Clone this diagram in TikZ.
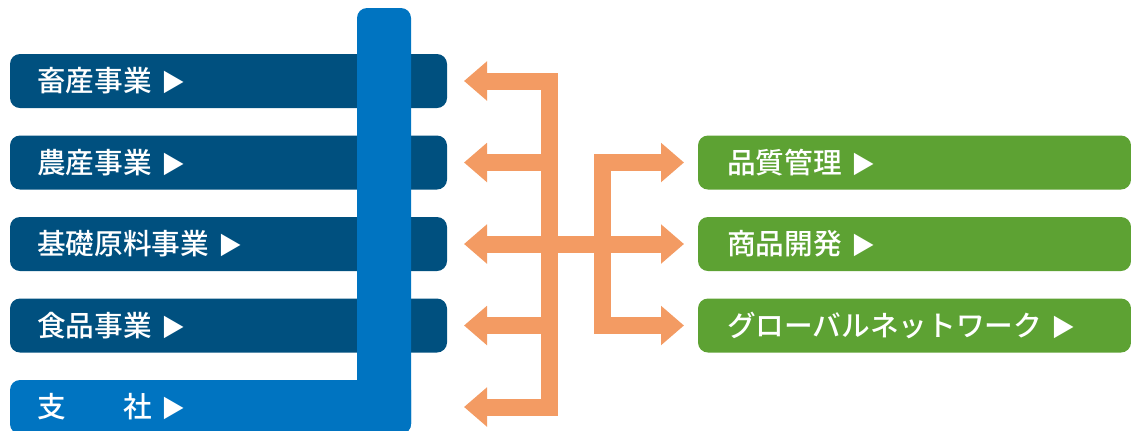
\documentclass[tikz,border=0pt]{standalone}
\usepackage{fontspec}
\usetikzlibrary{arrows.meta}
\newfontfamily\jpfont{Noto Sans CJK JP Medium}
\newcommand\navtri{{\fontsize{18}{20}\selectfont ▶}}

\definecolor{bizblue}{HTML}{00507F}
\definecolor{hqblue}{HTML}{0074C1}
\definecolor{suppgreen}{HTML}{5DA233}
\definecolor{linkorange}{HTML}{F39B63}

\tikzset{
  unitbox/.style={fill=#1, rounded corners=7.5pt, minimum height=40.5pt,
    text=white, align=left, font=\jpfont\fontsize{21.5}{26}\selectfont},
  bizbox/.style={unitbox=bizblue, inner xsep=20.25pt, text width=287.25pt},
  hqbox/.style={unitbox=hqblue, inner xsep=20.25pt, text width=260.25pt},
  suppbox/.style={unitbox=suppgreen, inner xsep=21.75pt, text width=281.25pt},
  link/.style={draw=linkorange, line width=12.75pt, line join=miter,
    >={Triangle[length=17.25pt,width=28.5pt]}}
}

\begin{document}
\begin{tikzpicture}[x=0.75pt, y=-0.75pt]
  \useasboundingbox (0,0) rectangle (1131,430);

  \node[bizbox] (b1) at (228.5, 81) {畜産事業 \navtri};
  \node[bizbox] (b2) at (228.5, 162.5) {農産事業 \navtri};
  \node[bizbox] (b3) at (228.5, 244) {基礎原料事業 \navtri};
  \node[bizbox] (b4) at (228.5, 325.5) {食品事業 \navtri};

  \fill[hqblue, rounded corners=7.5pt] (357, 8) rectangle (411, 434);
  \node[hqbox] (b5) at (210.5, 407) {支　　社 \navtri};

  \node[suppbox] (g1) at (914.5, 162.5) {品質管理 \navtri};
  \node[suppbox] (g2) at (914.5, 244) {商品開発 \navtri};
  \node[suppbox] (g3) at (914.5, 325.5) {グローバルネットワーク \navtri};

  \coordinate (sL) at (549.5, 0);
  \coordinate (sR) at (602.5, 0);
  \coordinate (tipL) at (464, 0);
  \coordinate (tipR) at (684, 0);

  \draw[link, <->] (tipL |- b1) -- (sL |- b1) -- (sL |- b5) -- (tipL |- b5);
  \draw[link, ->] (sL |- b2) -- (tipL |- b2);
  \draw[link, ->] (sL |- b4) -- (tipL |- b4);
  \draw[link, <->] (tipL |- b3) -- (tipR |- g2);
  \draw[link, <->] (tipR |- g1) -- (sR |- g1) -- (sR |- g3) -- (tipR |- g3);

\end{tikzpicture}
\end{document}
